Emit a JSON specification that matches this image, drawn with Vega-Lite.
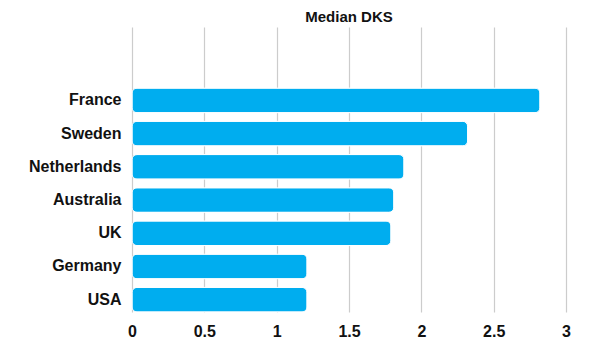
{
  "$schema": "https://vega.github.io/schema/vega-lite/v6.json",
  "autosize": "none",
  "width": 434,
  "height": 285,
  "padding": {"left": 132, "top": 27, "right": 33, "bottom": 29},
  "background": "white",
  "title": {
    "text": "Median DKS",
    "font": "Liberation Sans",
    "fontSize": 15,
    "fontWeight": "bold",
    "color": "#111111",
    "anchor": "middle",
    "offset": 2
  },
  "data": {
    "values": [
      {"country": "France", "dks": 2.82},
      {"country": "Sweden", "dks": 2.32},
      {"country": "Netherlands", "dks": 1.88},
      {"country": "Australia", "dks": 1.81},
      {"country": "UK", "dks": 1.79},
      {"country": "Germany", "dks": 1.21},
      {"country": "USA", "dks": 1.21}
    ]
  },
  "mark": {
    "type": "bar",
    "color": "#00ADEF",
    "cornerRadius": 5,
    "stroke": "white",
    "strokeWidth": 1
  },
  "encoding": {
    "y": {
      "field": "country",
      "type": "nominal",
      "sort": null,
      "scale": {"paddingInner": 0.26, "paddingOuter": 0.92, "align": 1},
      "axis": {
        "title": null,
        "ticks": false,
        "domain": false,
        "labelFont": "Liberation Sans",
        "labelFontSize": 16,
        "labelFontWeight": "bold",
        "labelColor": "#111111",
        "labelPadding": 11
      }
    },
    "x": {
      "field": "dks",
      "type": "quantitative",
      "scale": {"domain": [0, 3], "nice": false},
      "axis": {
        "title": null,
        "values": [0, 0.5, 1, 1.5, 2, 2.5, 3],
        "format": "~g",
        "ticks": false,
        "domain": false,
        "grid": true,
        "gridColor": "#cccccc",
        "gridWidth": 1.2,
        "labelFont": "Liberation Sans",
        "labelFontSize": 16,
        "labelFontWeight": "bold",
        "labelColor": "#111111",
        "labelPadding": 11,
        "labelFlush": false
      }
    }
  },
  "config": {"view": {"stroke": null}}
}
